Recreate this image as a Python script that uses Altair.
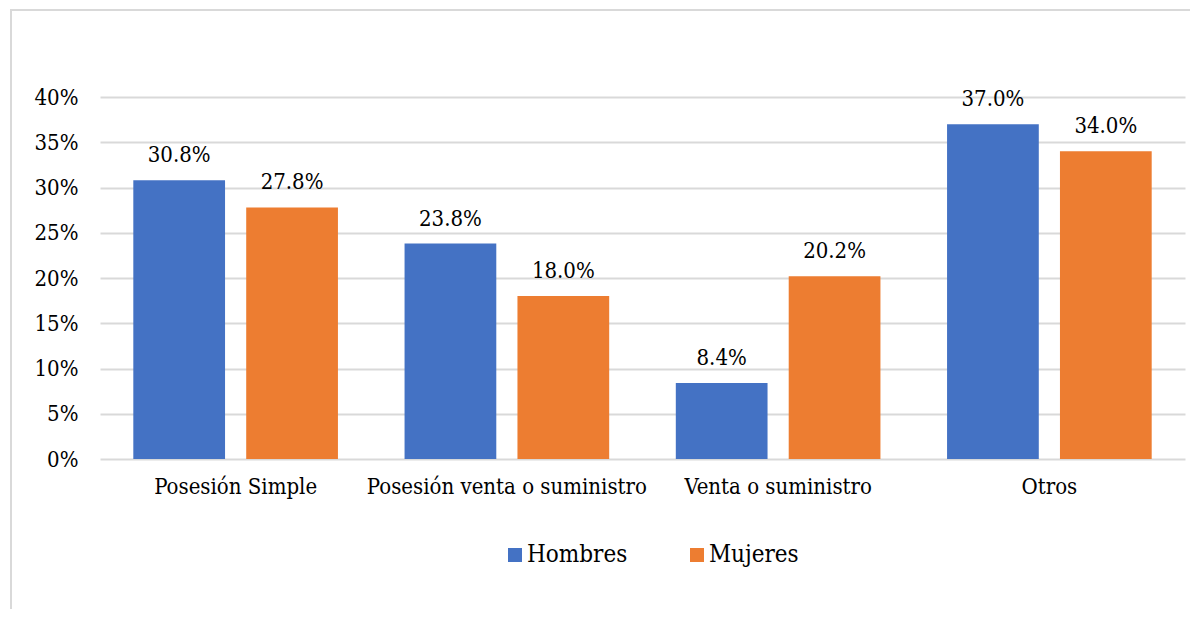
import altair as alt
import pandas as pd

categorias = ["Posesión Simple", "Posesión venta o suministro", "Venta o suministro", "Otros"]
hombres = [0.308, 0.238, 0.084, 0.370]
mujeres = [0.278, 0.180, 0.202, 0.340]
grupos = ["Hombres", "Mujeres"]
colores = ["#4472C4", "#ED7D31"]
ticks_y = [0, 0.05, 0.10, 0.15, 0.20, 0.25, 0.30, 0.35, 0.40]

rows = []
for c, h, m in zip(categorias, hombres, mujeres):
    rows.append({"cat": c, "sexo": "Hombres", "v": h})
    rows.append({"cat": c, "sexo": "Mujeres", "v": m})
df = pd.DataFrame(rows)

FONT = "DejaVu Serif Condensed"

base = alt.Chart(df).encode(
    x=alt.X("cat:N", sort=categorias,
            scale=alt.Scale(paddingInner=0, paddingOuter=0),
            axis=alt.Axis(title=None, labelAngle=0, domain=False, ticks=False,
                          labelPadding=17, labelFontSize=22, labelFont=FONT,
                          labelColor="black", grid=False, labelLimit=0)),
    xOffset=alt.XOffset("sexo:N", sort=grupos,
                        scale=alt.Scale(paddingInner=0.1875, paddingOuter=0.295)),
)

bars = base.mark_bar().encode(
    y=alt.Y("v:Q", scale=alt.Scale(domain=[0, 0.4]),
            axis=alt.Axis(title=None, format=".0%", values=ticks_y, domain=False,
                          ticks=False, grid=True, gridColor="#d9d9d9", gridWidth=2,
                          labelFontSize=22, labelFont=FONT, labelColor="black",
                          labelPadding=22)),
    color=alt.Color("sexo:N", scale=alt.Scale(domain=grupos, range=colores),
                    legend=alt.Legend(title=None, orient="none", legendX=403, legendY=446,
                                      direction="horizontal", symbolType="square",
                                      symbolSize=196, symbolStrokeWidth=0,
                                      labelFontSize=24, labelFont=FONT, labelColor="black",
                                      labelOffset=0, columnPadding=57, padding=0)),
)

text = base.mark_text(dy=-25, fontSize=22, font=FONT, color="black").encode(
    y=alt.Y("v:Q"),
    text=alt.Text("v:Q", format=".1%"),
)

border = alt.Chart(pd.DataFrame({"a": [0]})).mark_rect(
    fill=None, stroke="#d9d9d9", strokeWidth=2
).encode(
    x=alt.value(-89), x2=alt.value(1300), y=alt.value(-87), y2=alt.value(800)
)

chart = alt.layer(border, bars, text).properties(
    width=1085, height=362,
    autosize=alt.AutoSizeParams(type="none"),
    padding={"left": 92, "top": 89, "right": 5, "bottom": 150},
).configure_view(stroke=None)

chart.save("out.html", embed_options={"renderer": "svg", "actions": False})
